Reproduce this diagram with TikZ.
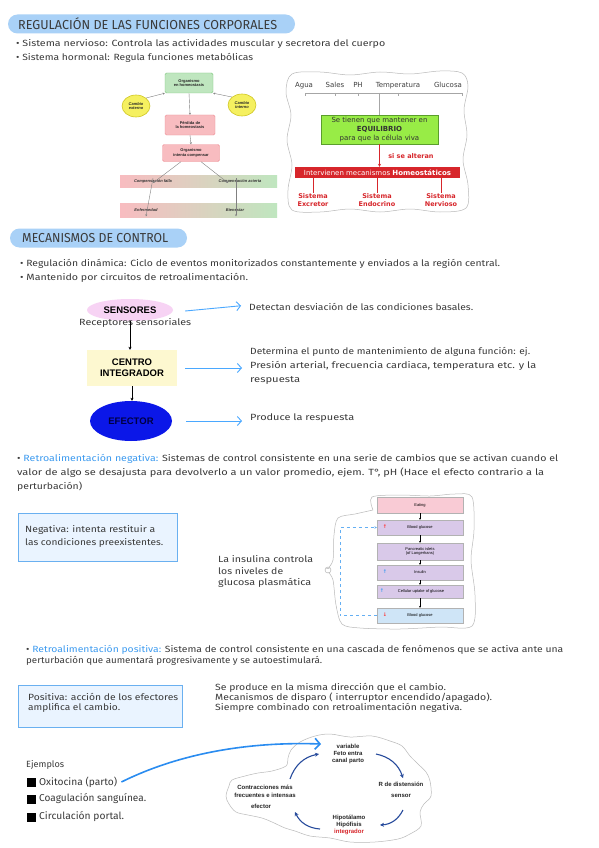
\documentclass[tikz,border=0pt]{standalone}
\usepackage{fontspec}
\usepackage{graphicx}
\setmainfont{Fira Sans}
\newfontfamily\arial{Liberation Sans}
\newfontfamily\dvs{DejaVu Sans}
\usetikzlibrary{shapes.geometric,arrows.meta}
\newcommand\fw[2]{\resizebox{#1pt}{\height}{#2}}
\definecolor{ink}{HTML}{3A3A3A}
\definecolor{pillblue}{HTML}{A9D1F7}
\definecolor{hblue}{HTML}{3D9BF0}
\definecolor{lgreen}{HTML}{BFE6BF}
\definecolor{dgreen}{HTML}{7FC77F}
\definecolor{lpink}{HTML}{F8BCC0}
\definecolor{dpink}{HTML}{EE8F96}
\definecolor{yel}{HTML}{F5F060}
\definecolor{dyel}{HTML}{CFC623}
\definecolor{eqgreen}{HTML}{98EC46}
\definecolor{eqdark}{HTML}{5B9E2C}
\definecolor{redc}{HTML}{D7262B}
\definecolor{senpink}{HTML}{F7D3F4}
\definecolor{cenyel}{HTML}{FDF8D0}
\definecolor{efblue}{HTML}{0B17E8}
\definecolor{arrowblue}{HTML}{4AA8FF}
\definecolor{negfill}{HTML}{EAF4FF}
\definecolor{negdraw}{HTML}{6AB0F0}
\definecolor{eatpink}{HTML}{F9CBD5}
\definecolor{lav}{HTML}{D9C9E9}
\definecolor{lblue}{HTML}{CFE5F7}
\definecolor{cycblue}{HTML}{274B9C}
\definecolor{bigblue}{HTML}{2A8CF0}
\begin{document}
\begin{tikzpicture}[x=1pt,y=-1pt,
  every node/.style={inner sep=0pt},
  hw/.style={anchor=west, font=\fontsize{9}{10}\selectfont, text=ink},
  pill/.style={fill=pillblue, rounded corners=9.5pt, minimum height=19pt},
  ttl/.style={anchor=west, font=\fontsize{13}{14}\selectfont, text=ink},
  sd/.style={font=\arial\bfseries\fontsize{4}{4.7}\selectfont, align=center, text=black!85},
  gbox/.style={sd, rectangle, rounded corners=1.5pt, fill=lgreen, draw=dgreen, line width=0.4pt},
  pbox/.style={sd, rectangle, rounded corners=1.5pt, fill=lpink, draw=dpink, line width=0.4pt},
  yell/.style={sd, ellipse, fill=yel, draw=dyel, line width=0.6pt, font=\arial\bfseries\itshape\fontsize{4}{4.7}\selectfont},
  bandtxt/.style={font=\arial\bfseries\itshape\fontsize{4}{4.7}\selectfont, text=black!80},
  garrow/.style={draw=gray, line width=0.4pt, -{Stealth[length=2pt,width=2pt]}},
  rdt/.style={anchor=base, font=\dvs\fontsize{7}{8.2}\selectfont, text=black!75},
  sys/.style={font=\dvs\bfseries\fontsize{6.5}{8}\selectfont, text=redc, align=center},
  big/.style={font=\arial\bfseries\fontsize{9.5}{11}\selectfont, align=center},
  barrow/.style={draw=arrowblue, line width=0.9pt, -{Straight Barb[length=4pt,width=9pt]}},
  karrow/.style={draw=black, line width=0.7pt, -{Stealth[length=3pt,width=3pt]}},
  gb/.style={rectangle, minimum width=86pt, font=\arial\fontsize{4}{4.8}\selectfont, align=center, draw=black!30, line width=0.3pt},
  smarrow/.style={draw=black, line width=0.4pt, -{Stealth[length=2pt,width=2pt]}},
  pc/.style={font=\arial\bfseries\fontsize{6}{7.4}\selectfont, align=center, text=black!85},
  cyc/.style={draw=cycblue, line width=1.1pt, -{Stealth[length=4pt,width=4pt]}},
  cloud/.style={draw=gray!55, line width=0.5pt}
]
\useasboundingbox[fill=white] (0,0) rectangle (599,848);

% ---------- Section 1 ----------
\node[pill, minimum width=287pt] (p1) at (151.5,24) {};
\node[ttl] (t1) at (18,24) {\fw{259}{REGULACIÓN DE LAS FUNCIONES CORPORALES}};
\node[hw] (b1) at (16,44) {\fw{369}{• Sistema nervioso: Controla las actividades muscular y secretora del cuerpo}};
\node[hw] (b2) at (16,58) {\fw{237}{• Sistema hormonal: Regula funciones metabólicas}};

% left small diagram
\node[gbox, minimum width=48pt, minimum height=20pt] (oh) at (189,83) {Organismo\\en homeostasis};
\node[yell, minimum width=28pt, minimum height=22pt] (ce) at (136,106) {Cambio\\externo};
\node[yell, minimum width=28pt, minimum height=22pt] (ci) at (242,105) {Cambio\\interno};
\node[pbox, minimum width=50pt, minimum height=20pt] (ph) at (190,125) {Pérdida de\\la homeostasis};
\node[pbox, minimum width=57pt, minimum height=17pt] (oc) at (191,153) {Organismo\\intenta compensar};
\shade[left color=lpink, right color=lgreen] (120,175) rectangle (277,187);
\shade[left color=lpink, right color=lgreen] (120,203) rectangle (277,217);
\node[bandtxt] (cf) at (153,181) {Compensación falla};
\node[bandtxt] (ca) at (240,181) {Compensación acierta};
\node[bandtxt] (en) at (146,210) {Enfermedad};
\node[bandtxt] (bi) at (235,210) {Bienestar};
\draw[garrow] (ce.north east) -- (oh.south west);
\draw[garrow] (ci.north west) -- (oh.south east);
\draw[garrow] (oh.south) -- (ph.north);
\draw[garrow] (ph.south) -- (oc.north);
\draw[garrow] ([xshift=-10pt]oc.south) -- ([yshift=-4pt]cf.north);
\draw[garrow] ([xshift=10pt]oc.south) -- ([xshift=-12pt,yshift=-4pt]ca.north);
\draw[garrow] ([yshift=5pt]cf.south) -- ([yshift=-8pt]en.north);
\draw[garrow] ([xshift=-4pt,yshift=5pt]ca.south) -- ([xshift=1pt,yshift=-8pt]bi.north);

% right diagram
\draw[cloud] plot[smooth cycle, tension=0.55] coordinates {
  (292,74) (320,72) (350,75) (380,72) (410,74) (440,71) (462,73) (468,86)
  (464,110) (467,135) (463,160) (468,185) (466,208) (440,212) (410,209)
  (380,212) (350,209) (320,212) (292,210) (288,190) (292,165) (287,140)
  (291,115) (286,92)};
\node[rdt] (ag) at (304,88) {Agua};
\node[rdt] (sa) at (335,88) {Sales};
\node[rdt] (phv) at (358,88) {PH};
\node[rdt] (te) at (398,88) {Temperatura};
\node[rdt] (gl) at (448,88) {Glucosa};
\coordinate (brl) at (305,93);
\coordinate (brr) at (462,93);
\node[draw=eqdark, fill=eqgreen, line width=0.5pt, minimum width=117pt, minimum height=29pt,
  align=center, font=\dvs\fontsize{7}{8.6}\selectfont, text=black!80] (eq) at (379.5,129.5)
  {Se tienen que mantener en\\\textbf{EQUILIBRIO}\\para que la célula viva};
\draw[gray!70, line width=0.6pt] ([yshift=-3pt]brl) -- (brl) -- (brr) -- ([yshift=-3pt]brr);
\draw[gray!70, line width=0.6pt] (sa |- brl) -- ([yshift=-3pt]sa |- brl);
\draw[gray!70, line width=0.6pt] (phv |- brl) -- ([yshift=-3pt]phv |- brl);
\draw[gray!70, line width=0.6pt] (te |- brl) -- ([yshift=-3pt]te |- brl);
\draw[gray!70, line width=0.6pt] (brl -| eq.north) -- (eq.north);
\node[fill=redc, minimum width=165pt, minimum height=11pt, font=\dvs\fontsize{7}{8}\selectfont,
  text=white] (hb) at (377.5,172.5) {Intervienen mecanismos \textbf{Homeostáticos}};
\draw[redc, line width=0.6pt, -{Stealth[length=3pt,width=3pt]}] (eq.south) -- (eq.south |- hb.north);
\node[font=\dvs\bfseries\fontsize{6.5}{8}\selectfont, text=redc] (sa2) at (411,156) {si se alteran};
\node[sys] (s1) at (313,200) {Sistema\\Excretor};
\node[sys] (s2) at (377,200) {Sistema\\Endocrino};
\node[sys] (s3) at (441,200) {Sistema\\Nervioso};
\draw[redc, line width=1pt] (hb.south -| s1) -- (s1.north);
\draw[redc, line width=1pt] (hb.south -| s2) -- (s2.north);
\draw[redc, line width=1pt] (hb.south -| s3) -- (s3.north);

% ---------- Section 2 ----------
\node[pill, minimum width=177pt] (p2) at (98.5,238) {};
\node[ttl] (t2) at (22,238) {\fw{146}{MECANISMOS DE CONTROL}};
\node[hw] (b3) at (20,264) {\fw{480}{• Regulación dinámica: Ciclo de eventos monitorizados constantemente y enviados a la región central.}};
\node[hw] (b4) at (20,278) {\fw{228}{• Mantenido por circuitos de retroalimentación.}};

\node[ellipse, fill=senpink, minimum width=86pt, minimum height=22pt, big] (sen) at (130,310) {SENSORES};
\node[hw] (rec) at (79,323) {\fw{112}{Receptores sensoriales}};
\node[rectangle, fill=cenyel, minimum width=90pt, minimum height=36pt, big] (cen) at (132,368) {CENTRO\\INTEGRADOR};
\node[ellipse, fill=efblue, minimum width=82pt, minimum height=40pt, big, text=black!75!blue] (efe) at (131,421) {EFECTOR};
\draw[karrow] (sen.south) -- (sen.south |- cen.north);
\draw[karrow] (cen.south) -- (cen.south |- efe.north);

\node[hw] (det) at (249,307) {\fw{224}{Detectan desviación de las condiciones basales.}};
\node[hw] (d1) at (250,352) {\fw{280}{Determina el punto de mantenimiento de alguna función: ej.}};
\node[hw] (d2) at (250,366) {\fw{286}{Presión arterial, frecuencia cardiaca, temperatura etc. y la}};
\node[hw] (d3) at (250,380) {\fw{50}{respuesta}};
\node[hw] (pr) at (250,418) {\fw{104}{Produce la respuesta}};
\draw[barrow, shorten >=8pt] ([xshift=12pt,yshift=-1pt]sen.east) -- ([yshift=2pt]det.west);
\draw[barrow, shorten >=8pt] ([xshift=8pt]cen.east) -- (cen.east -| d2.west);
\draw[barrow, shorten >=8pt] ([xshift=14pt]efe.east) -- (efe.east -| pr.west);

% negative feedback
\node[hw] (n1) at (17,459) {\fw{541}{• \textcolor{hblue}{Retroalimentación negativa:} Sistemas de control consistente en una serie de cambios que se activan cuando el}};
\node[hw] (n2) at (17,473) {\fw{527}{valor de algo se desajusta para devolverlo a un valor promedio, ejem. T°, pH (Hace el efecto contrario a la}};
\node[hw] (n3) at (17,487) {\fw{65}{perturbación)}};

\node[rectangle, fill=negfill, draw=negdraw, line width=0.8pt, minimum width=159pt, minimum height=48pt] (nb) at (97.5,537) {};
\node[hw] (nt1) at (25,530) {\fw{130}{Negativa: intenta restituir a}};
\node[hw] (nt2) at (25,543) {\fw{138}{las condiciones preexistentes.}};

\node[hw] (i1) at (218,559) {\fw{95}{La insulina controla}};
\node[hw] (i2) at (218,571) {\fw{65}{los niveles de}};
\node[hw] (i3) at (218,583) {\fw{93}{glucosa plasmática}};

% glucose diagram
\draw[cloud] plot[smooth, tension=0.5] coordinates {
  (373,510) (372,497) (400,495) (430,496) (455,494) (472,497) (474,530) (471,560)
  (475,595) (472,626) (440,627) (400,629) (360,628) (342,624) (336,605) (333,580) (328,570)
  (333,560) (334,535) (338,518) (355,514) (373,510)};
\node[gb, fill=eatpink, minimum height=16pt] (eat) at (420,505) {Eating};
\node[gb, fill=lav, minimum height=15pt] (bg1) at (420,527.5) {Blood glucose};
\node[gb, fill=lav, minimum height=17pt] (pi) at (420,551.5) {Pancreatic islets\\(of Langerhans)};
\node[gb, fill=lav, minimum height=15pt] (ins) at (420,572.5) {Insulin};
\node[gb, fill=lav, minimum height=13pt] (cu) at (420,591.5) {\phantom{x}Cellular uptake of glucose};
\node[gb, fill=lblue, minimum height=15pt] (bg2) at (420,615.5) {Blood glucose};
\draw[smarrow] (eat.south) -- (bg1.north);
\draw[smarrow] (bg1.south) -- (pi.north);
\draw[smarrow] (pi.south) -- (ins.north);
\draw[smarrow] (ins.south) -- (cu.north);
\draw[smarrow] (cu.south) -- (bg2.north);
\node[font=\dvs\bfseries\fontsize{5}{5}\selectfont, text=red!80] (u1) at (385,527) {↑};
\node[font=\dvs\bfseries\fontsize{5}{5}\selectfont, text=hblue] (u2) at (385,572) {↑};
\node[font=\dvs\bfseries\fontsize{5}{5}\selectfont, text=hblue] (u3) at (382,591) {↑};
\node[font=\dvs\bfseries\fontsize{5}{5}\selectfont, text=red!80] (u4) at (385,615) {↓};
\draw[hblue!80, dashed, line width=0.5pt, -{Stealth[length=2.5pt,width=2.5pt]}]
  (bg2.west) -| ([xshift=-37pt]bg1.west) -- (bg1.west);
\node[circle, draw=gray!70, fill=white, minimum size=6pt, line width=0.4pt, font=\dvs\fontsize{5}{5}\selectfont, text=gray] (mn) at (328,570) {−};

% positive feedback
\node[hw] (q1) at (26,650) {\fw{537}{• \textcolor{hblue}{Retroalimentación positiva:} Sistema de control consistente en una cascada de fenómenos que se activa ante una}};
\node[hw] (q2) at (26,661) {\fw{296}{perturbación que aumentará progresivamente y se autoestimulará.}};

\node[rectangle, fill=negfill, draw=negdraw, line width=0.8pt, minimum width=164pt, minimum height=42pt] (pb) at (100,706) {};
\node[hw] (pt1) at (28,697) {\fw{150}{Positiva: acción de los efectores}};
\node[hw] (pt2) at (28,708) {\fw{92}{amplifica el cambio.}};

\node[hw] (r1) at (215,688) {\fw{231}{Se produce en la misma dirección que el cambio.}};
\node[hw] (r2) at (215,698) {\fw{277}{Mecanismos de disparo ( interruptor encendido/apagado).}};
\node[hw] (r3) at (215,708) {\fw{247}{Siempre combinado con retroalimentación negativa.}};

% examples
\node[hw] (ej) at (26,765) {\fw{38}{Ejemplos}};
\fill[black] (27,777.5) rectangle (36,786.5);
\fill[black] (27,794.5) rectangle (36,803.5);
\fill[black] (27,812.5) rectangle (36,821.5);
\node[hw, font=\fontsize{10}{11}\selectfont] (ex1) at (39,782) {\fw{78}{Oxitocina (parto)}};
\node[hw, font=\fontsize{10}{11}\selectfont] (ex2) at (39,799) {\fw{107}{Coagulación sanguínea.}};
\node[hw, font=\fontsize{10}{11}\selectfont] (ex3) at (39,817) {\fw{85}{Circulación portal.}};

% cycle
\draw[cloud] plot[smooth cycle, tension=0.55] coordinates {
  (300,742) (315,736) (330,734) (350,737) (372,736) (390,741) (402,746) (410,756) (418,764)
  (426,772) (430,781) (431,796) (424,804) (420,812) (421,826) (410,834) (398,839) (375,842)
  (350,842) (330,838) (310,836) (295,831) (285,828) (272,822) (262,818) (248,815) (236,812)
  (229,804) (226,796) (229,786) (232,780) (245,776) (258,773) (272,771) (286,766) (288,758) (291,750)};
\node[pc] (var) at (348,754) {variable\\Feto entra\\canal parto};
\node[pc] (rd) at (401,790) {R de distensión\\[4pt]sensor};
\node[pc] (hh) at (349,825) {Hipotálamo\\Hipófisis\\\textcolor{redc}{integrador}};
\node[pc] (co) at (265,797) {Contracciones más\\frecuentes e intensas\\[4pt]\hspace*{-8pt}efector};
\coordinate (k1) at (290,779);
\coordinate (k2) at (319,754);
\coordinate (k3) at (376,754);
\coordinate (k4) at (403,778);
\coordinate (k5) at (403,810);
\coordinate (k6) at (380,825);
\coordinate (k7) at (320,829);
\coordinate (k8) at (295,812);
\draw[cyc] (k1) to[bend left=30] (k2);
\draw[cyc] (k3) to[bend left=30] (k4);
\draw[cyc] (k5) to[bend left=30] (k6);
\draw[cyc] (k7) to[bend left=30] (k8);
\coordinate (bbend) at (321,744);
\draw[bigblue, line width=1.6pt, -{Straight Barb[length=5pt,width=11pt]}]
  ([xshift=4pt]ex1.east) .. controls (190,748) and (265,742) .. (bbend);
\end{tikzpicture}
\end{document}
